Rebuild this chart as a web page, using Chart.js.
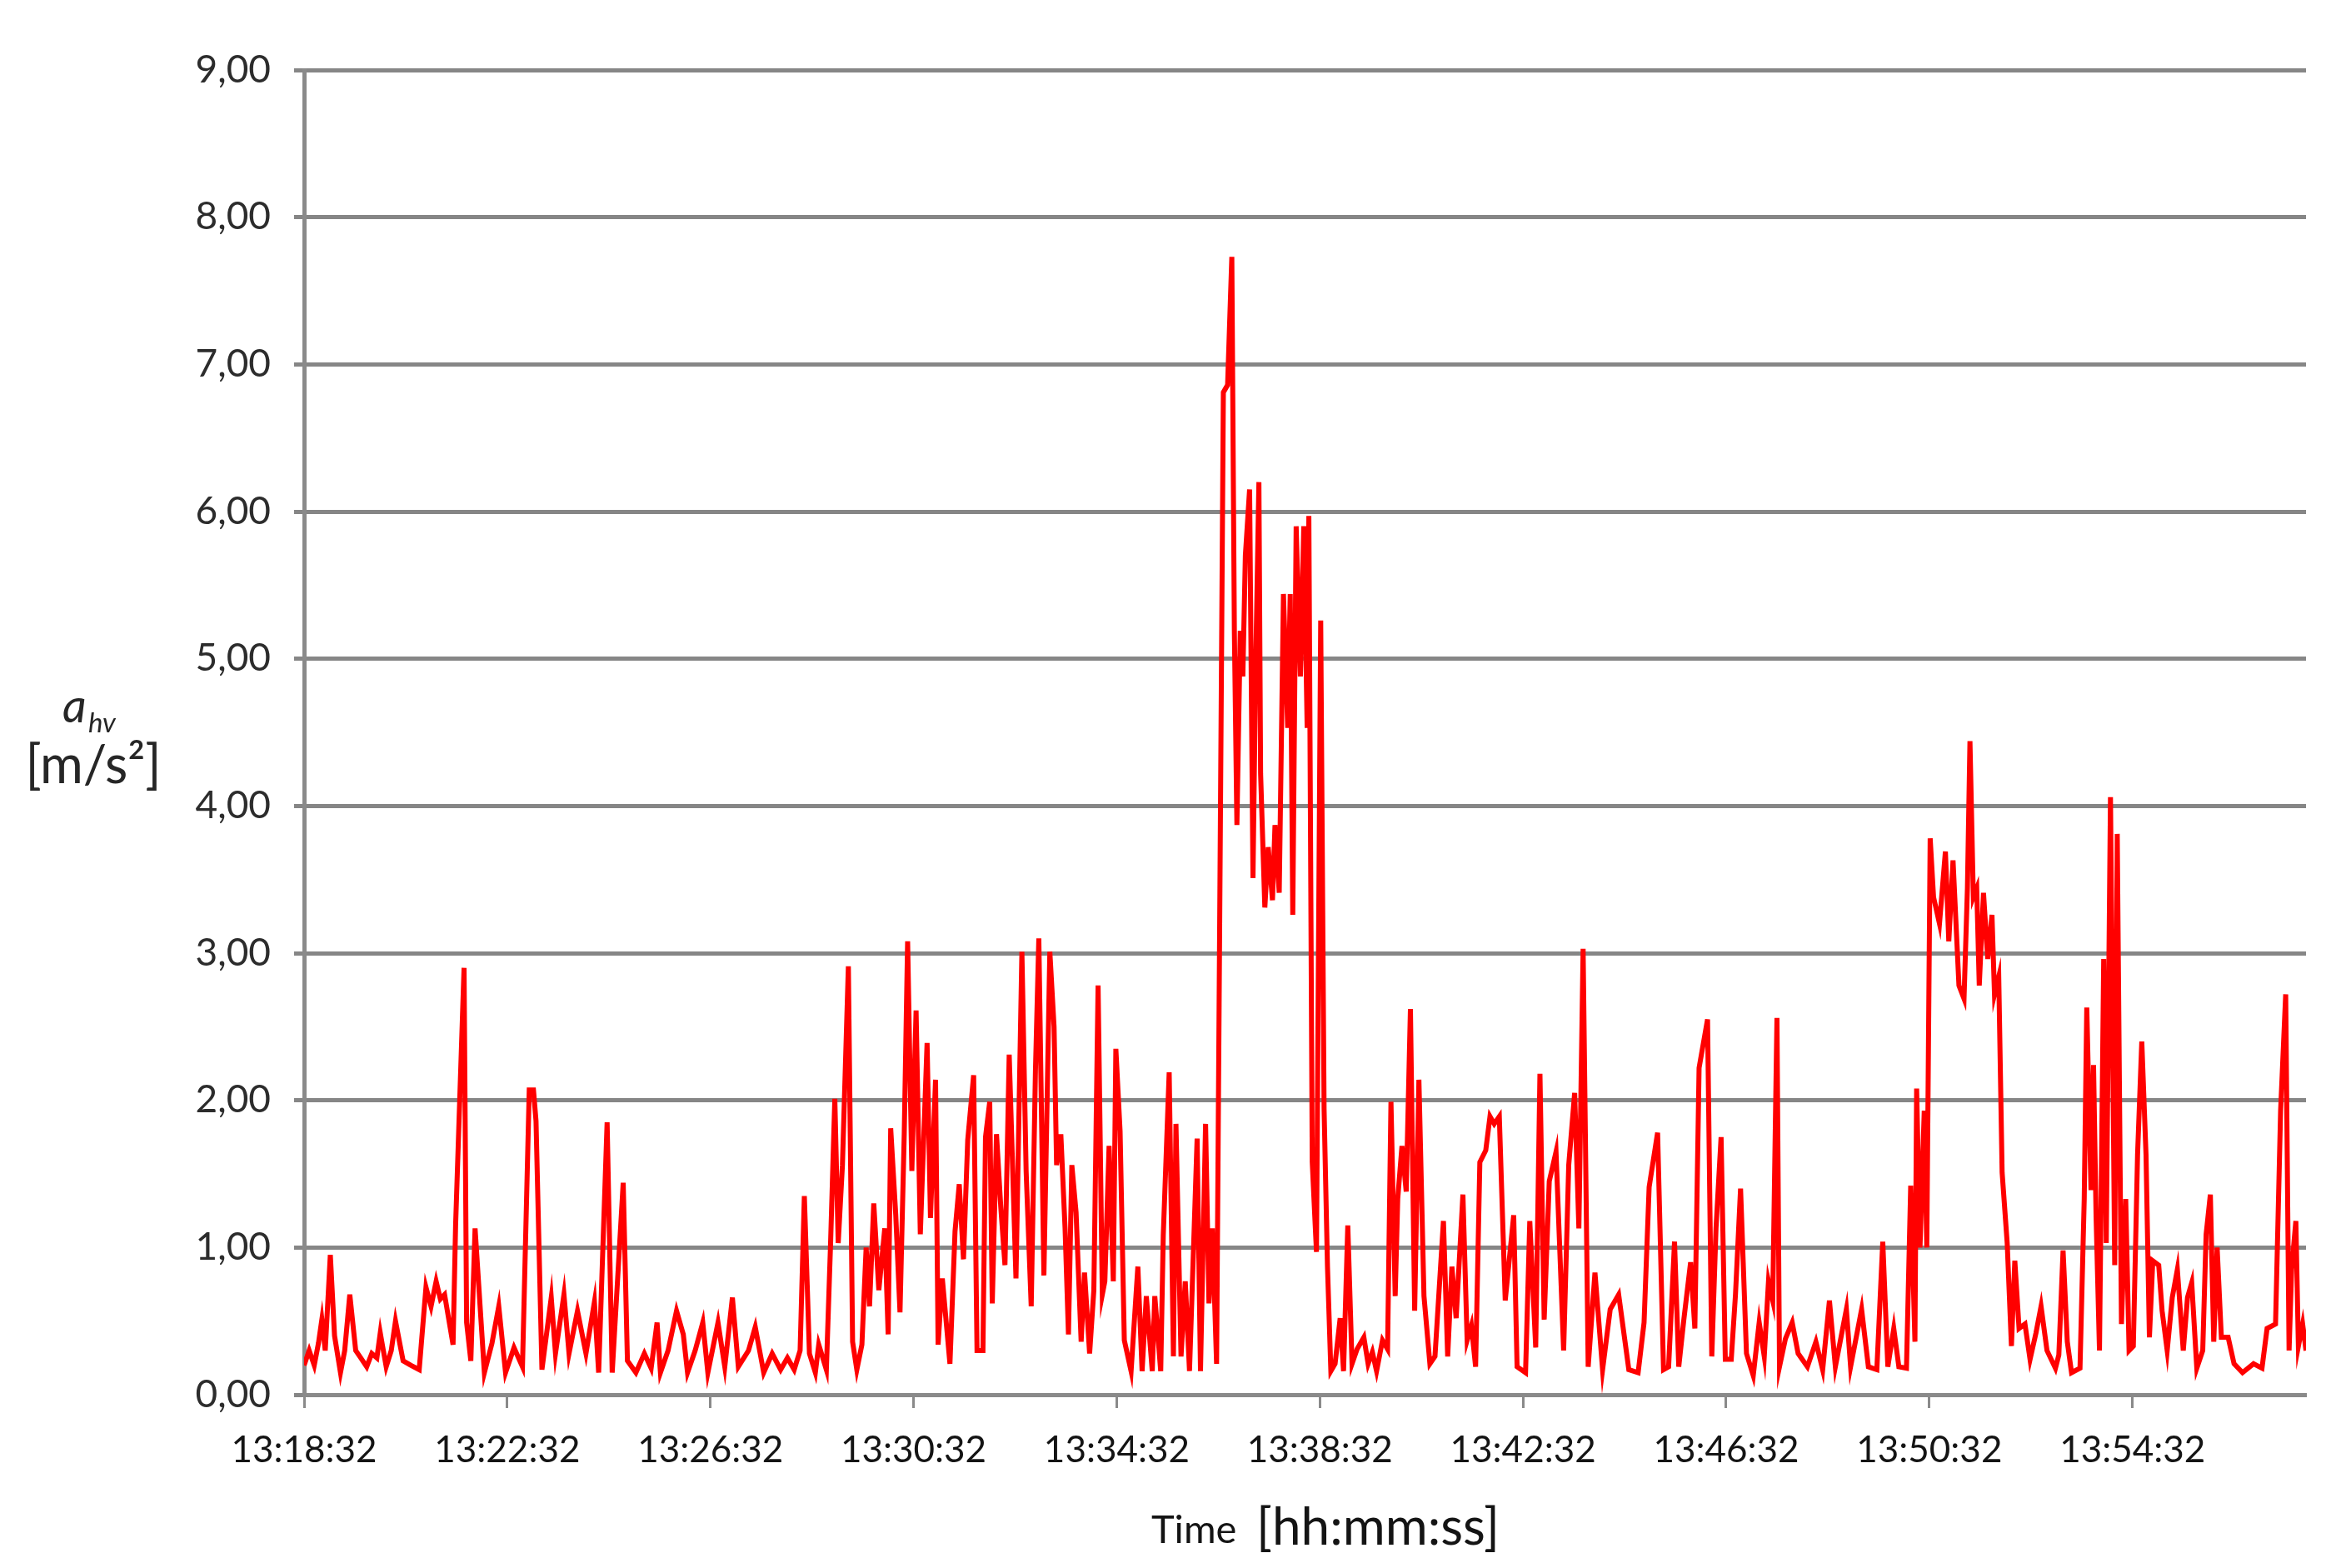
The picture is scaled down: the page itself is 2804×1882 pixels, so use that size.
<!DOCTYPE html>
<html>
<head>
<meta charset="utf-8">
<script src="https://cdn.jsdelivr.net/npm/chart.js@4.4.1/dist/chart.umd.min.js"></script>
<style>
  html, body { margin: 0; padding: 0; background: #ffffff; }
  #c { display: block; }
</style>
</head>
<body>
<canvas id="c" width="2804" height="1882" style="width:2804px;height:1882px"></canvas>
<script>
// Time in seconds since 13:18:32, value a_hv in m/s^2
const startClock = [13, 18, 32];
const timesA = [0,6,12,17,21,25,31,36,43,48,54,61,67,74,80,86,90,97,103,108,117,126,136,144,150,156,161,166,176,179,189,192,197,202,213,222,230,238,248,258,266,271,274,281,292,297,307,313,323,333,343,348,358,364,377,382,392,402,410,417,421,430,440,448,453,462,471,477];
const valuesA = [0.2,0.3,0.2,0.35,0.51,0.3,0.95,0.4,0.15,0.3,0.68,0.3,0.25,0.19,0.28,0.25,0.42,0.19,0.3,0.5,0.23,0.2,0.17,0.73,0.6,0.77,0.65,0.68,0.34,1.15,2.9,0.49,0.23,1.13,0.15,0.35,0.6,0.15,0.32,0.19,2.07,2.07,1.86,0.17,0.66,0.28,0.68,0.28,0.57,0.28,0.63,0.15,1.85,0.15,1.44,0.23,0.15,0.28,0.18,0.49,0.15,0.3,0.57,0.41,0.15,0.3,0.49,0.15];
const timesB = [489,497,506,513,525,533,543,553,563,571,579,586,591,597,604,608,617,622,627,631,636,643,648,653,659,664,668,673,679,686,690,693,699,704,709,713,718,723,728,736,740,746,749,754,763,769,774,779,784,791,795,802,805,810,813,818,823,828,833,841,848,853,859,864,868,874,881,886,889,894,899,903,907,912,918,922,928,933,938,943];
const valuesB = [0.49,0.19,0.66,0.19,0.3,0.46,0.15,0.28,0.17,0.25,0.17,0.3,1.35,0.28,0.15,0.34,0.17,1.03,2.01,1.03,1.56,2.91,0.36,0.17,0.34,1.0,0.6,1.3,0.71,1.13,0.41,1.81,1.22,0.56,1.77,3.08,1.52,2.61,1.09,2.39,1.2,2.14,0.34,0.79,0.21,1.11,1.43,0.92,1.73,2.17,0.3,0.3,1.75,1.99,0.62,1.77,1.28,0.88,2.31,0.79,3.01,1.52,0.6,2.2,3.1,0.81,3.01,2.5,1.56,1.77,1.13,0.41,1.56,1.24,0.36,0.83,0.28,0.71,2.78,0.68];
const timesC = [946,951,956,959,964,969,977,985,990,995,1002,1005,1012,1015,1022,1027,1030,1036,1041,1046,1055,1059,1065,1069,1073,1078,1081,1086,1091,1096,1099,1102,1106,1109,1112,1117,1121,1124,1128,1130,1135,1139,1144,1147,1152,1157,1162,1165,1168,1172,1177,1181,1185,1187,1191,1196,1201,1205,1209,1213,1218,1224,1228,1233,1238,1244,1252,1257,1262,1267,1274,1280,1284,1289,1292,1297,1302,1307,1312,1317,1323,1330,1336,1341,1346,1351,1356,1361,1369,1374,1379,1384,1389,1396,1401,1406,1412];
const valuesC = [0.77,1.69,0.77,2.35,1.79,0.37,0.16,0.87,0.16,0.67,0.16,0.67,0.16,1.08,2.19,0.26,1.84,0.26,0.77,0.16,1.74,0.16,1.84,0.62,1.13,0.21,2.65,6.81,6.86,7.73,5.19,3.87,5.19,4.88,5.7,6.15,3.51,4.88,6.2,4.22,3.31,3.72,3.36,3.87,3.41,5.44,4.53,5.44,3.26,5.9,4.88,5.9,4.53,5.97,1.58,0.97,5.26,1.94,0.87,0.16,0.21,0.52,0.16,1.15,0.21,0.31,0.39,0.21,0.29,0.16,0.37,0.31,1.99,0.67,1.33,1.69,1.38,2.62,0.57,2.14,0.67,0.21,0.26,0.72,1.18,0.26,0.87,0.52,1.36,0.37,0.47,0.19,1.58,1.66,1.89,1.84,1.89];
const timesD = [1419,1429,1433,1443,1448,1455,1460,1465,1471,1479,1488,1494,1501,1506,1511,1517,1525,1534,1543,1553,1565,1576,1583,1589,1599,1606,1612,1619,1624,1630,1638,1643,1648,1658,1663,1668,1674,1679,1686,1691,1697,1704,1712,1719,1725,1730,1735,1740,1743,1750,1758,1765,1776,1786,1794,1802,1809,1822,1827,1840,1848,1858,1865,1871,1878,1884];
const valuesD = [0.64,1.22,0.19,0.15,1.18,0.32,2.18,0.51,1.45,1.65,0.3,1.56,2.05,1.13,3.03,0.19,0.83,0.17,0.58,0.68,0.17,0.15,0.49,1.41,1.78,0.17,0.19,1.04,0.19,0.51,0.9,0.45,2.22,2.55,0.26,1.13,1.75,0.24,0.24,0.68,1.4,0.28,0.13,0.49,0.26,0.77,0.64,2.56,0.19,0.38,0.49,0.28,0.19,0.36,0.17,0.64,0.19,0.58,0.19,0.58,0.19,0.17,1.04,0.19,0.45,0.19];
const timesE = [1893,1898,1903,1905,1909,1914,1917,1921,1925,1932,1939,1943,1948,1955,1961,1965,1968,1972,1976,1979,1984,1989,1994,1997,2002,2006,2012,2017,2021,2026,2033,2039,2046,2052,2059,2069,2073,2078,2083,2088,2098,2103,2106,2111,2114,2117,2121,2126,2129,2134,2139,2142,2147,2152,2156,2161,2166,2171,2176,2180,2184,2191,2195,2201,2207,2213,2220,2225,2230,2236,2243,2247,2252,2256,2260,2265,2273,2280,2290,2303,2313,2319,2329,2335,2341,2345,2348,2353,2356,2361,2365];
const valuesE = [0.18,1.42,0.36,2.08,1.0,1.93,1.0,3.78,3.38,3.2,3.69,3.08,3.63,2.78,2.69,3.44,4.44,3.38,3.44,2.78,3.41,2.96,3.26,2.72,2.84,1.51,1.03,0.33,0.91,0.45,0.48,0.24,0.42,0.6,0.3,0.18,0.27,0.98,0.36,0.15,0.18,1.33,2.63,1.39,2.24,1.21,0.3,2.96,1.03,4.06,0.88,3.81,0.48,1.33,0.3,0.33,1.63,2.4,1.63,0.39,0.91,0.88,0.57,0.3,0.66,0.85,0.3,0.66,0.76,0.18,0.3,1.09,1.36,0.36,1.0,0.39,0.39,0.21,0.15,0.21,0.18,0.45,0.48,1.93,2.72,0.3,0.85,1.18,0.33,0.48,0.3];

const xMin = 0, xMax = 2365;
const xTickSeconds = [0, 240, 480, 720, 960, 1200, 1440, 1680, 1920, 2160];
const yMin = 0, yMax = 9, yStep = 1;
const xTitleParts = ['Time', '[hh:mm:ss]'];
const yTitleParts = ['a', 'hv', '[m/s²]'];

const times = [].concat(timesA, timesB, timesC, timesD, timesE);
const values = [].concat(valuesA, valuesB, valuesC, valuesD, valuesE);
const points = times.map((t, i) => ({ x: t, y: values[i] }));

function clockLabel(sec) {
  const total = startClock[0] * 3600 + startClock[1] * 60 + startClock[2] + Math.round(sec);
  const h = Math.floor(total / 3600), m = Math.floor((total % 3600) / 60), s = total % 60;
  const p = n => String(n).padStart(2, '0');
  return h + ':' + p(m) + ':' + p(s);
}

const titlesPlugin = {
  id: 'titles',
  afterDraw(chart) {
    const ctx = chart.ctx;
    ctx.save();
    ctx.textBaseline = 'alphabetic';
    // y-axis title (horizontal)
    ctx.fillStyle = '#262626';
    ctx.textAlign = 'left';
    ctx.font = 'italic 56px Lato';
    ctx.fillText(yTitleParts[0], 75, 867);
    ctx.font = 'italic 33px Lato';
    ctx.fillText(yTitleParts[1], 106, 879);
    ctx.textAlign = 'center';
    ctx.font = '63px Lato';
    ctx.fillText(yTitleParts[2], 112, 940);
    // x-axis title
    ctx.fillStyle = '#141414';
    ctx.textAlign = 'left';
    ctx.font = '47px Lato';
    ctx.fillText(xTitleParts[0], 1382, 1852);
    ctx.font = '62px Lato';
    ctx.fillText(xTitleParts[1], 1508, 1854);
    ctx.restore();
  }
};

new Chart(document.getElementById('c'), {
  type: 'line',
  data: {
    datasets: [{
      data: points,
      borderColor: '#ff0000',
      borderWidth: 6,
      pointRadius: 0,
      tension: 0,
      fill: false
    }]
  },
  options: {
    responsive: false,
    animation: false,
    devicePixelRatio: 1,
    layout: { padding: { left: 0, right: 36, top: 84, bottom: 0 } },
    plugins: { legend: { display: false }, tooltip: { enabled: false } },
    scales: {
      x: {
        type: 'linear',
        min: xMin, max: xMax,
        afterFit(scale) { scale.height = 208; },
        afterBuildTicks(scale) { scale.ticks = xTickSeconds.map(v => ({ value: v })); },
        ticks: {
          autoSkip: false, maxRotation: 0, minRotation: 0,
          padding: 24, color: '#141414',
          font: { family: 'Lato', size: 44 },
          callback: v => clockLabel(v)
        },
        grid: { drawOnChartArea: false, drawTicks: true, tickLength: 16, tickColor: '#8a8a8a', tickWidth: 3 },
        border: { display: true, color: '#8a8a8a', width: 5 }
      },
      y: {
        min: yMin, max: yMax,
        afterFit(scale) { scale.width = 365; },
        ticks: {
          stepSize: yStep, padding: 28, color: '#2c2c2c',
          font: { family: 'Lato', size: 46 },
          callback: v => Number(v).toFixed(2).replace('.', ',')
        },
        grid: { color: '#868686', lineWidth: 5, drawTicks: true, tickLength: 12 },
        border: { display: true, color: '#8a8a8a', width: 5 }
      }
    }
  },
  plugins: [titlesPlugin]
});
</script>
</body>
</html>
